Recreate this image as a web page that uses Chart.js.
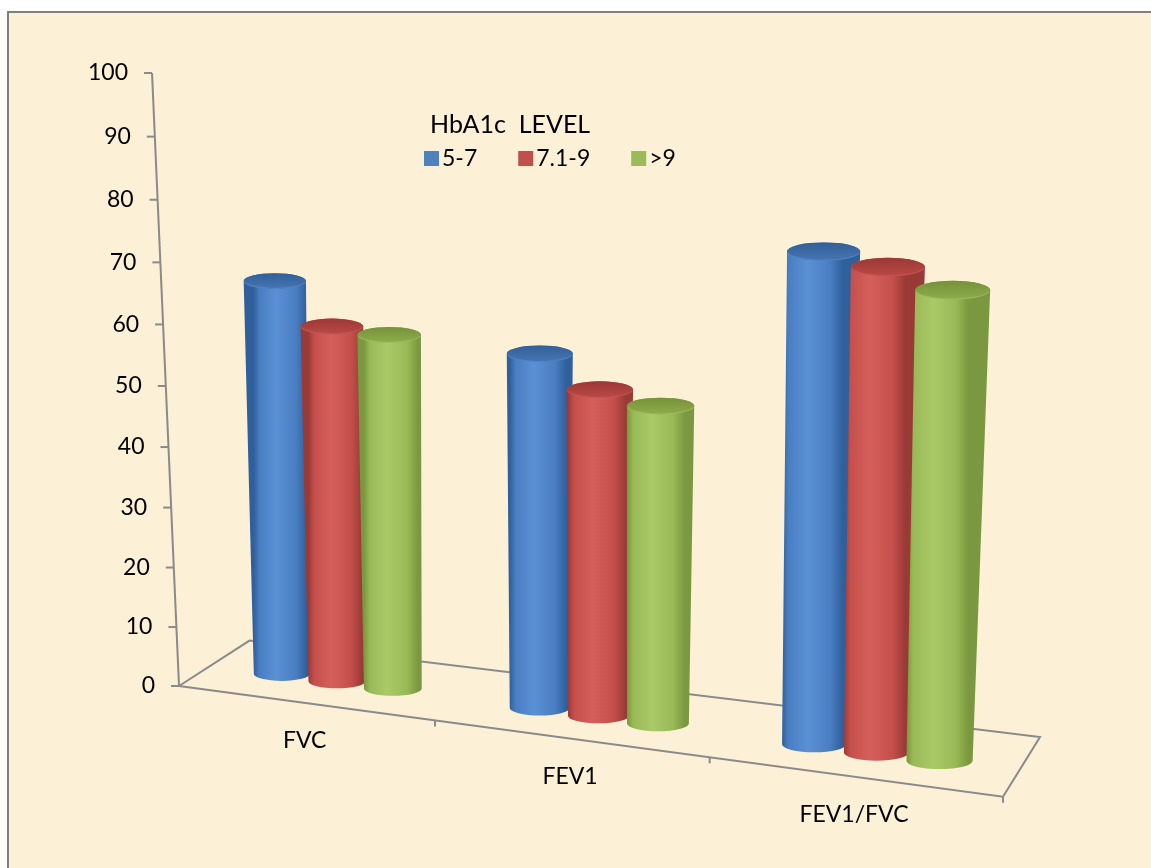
<!DOCTYPE html>
<html>
<head>
<meta charset="utf-8">
<script src="https://cdn.jsdelivr.net/npm/chart.js@4.4.1/dist/chart.umd.min.js"></script>
<style>
  html, body { margin: 0; padding: 0; background: #ffffff; }
  canvas { display: block; }
</style>
</head>
<body>
<canvas id="chart" width="1151" height="868"></canvas>
<script>
// ---- data ----
const categories = ['FVC', 'FEV1', 'FEV1/FVC'];
const levelNames = ['5-7', '7.1-9', '>9'];
const level5to7 = [65, 55, 71];
const level7to9 = [58, 50, 69];
const levelOver9 = [57, 48, 66];
const yTickValues = [0, 10, 20, 30, 40, 50, 60, 70, 80, 90, 100];
const legendTitle = 'HbA1c  LEVEL';

// ---- styling ----
const FONT = 'Lato, "Open Sans", sans-serif';
const palettes = [
  { base: '#4F81BD', dark: '#30609C', mid: '#4A7EC2', light: '#5A90D4', capBack: '#325F98', capFront: '#4676B3' },
  { base: '#C0504D', dark: '#9A3A37', mid: '#C44F4B', light: '#D45F5B', capBack: '#9C3835', capFront: '#B94946' },
  { base: '#9BBB59', dark: '#7A9840', mid: '#98B955', light: '#A9CA66', capBack: '#76923A', capFront: '#8EAC4C' }
];

// Oblique floor geometry (screen space) for the 3-D look.
function frontX(t) { return 179 + 740 * t + 84 * t * t; }
function frontY(x) { return 686 + 0.1344 * (x - 179); }
function backY(x) { return 640.6 + 0.122 * (x - 249.5); }
function rowX(t) { return 212.4 + 735 * t + 74.25 * t * t; }   // row the cylinders stand on
function rowY(x) { return 673.5 + 0.1322 * (x - 279); }
function depthScale(x) { return 1 + 0.000273 * (x - 279); }
function axisX(y) { return 179 - (686 - y) * 0.044; }

// slight perspective bow of the value axis
function warp(yScale, p) {
  const t = (yScale.bottom - p) / (yScale.bottom - yScale.top);
  return p + 26 * t * (1 - t);
}

function drawCylinder(ctx, bx, by, wb, tx, ty, wt, pal) {
  const rb = wb / 2, rt = wt / 2, eb = wb * 0.125, et = wt * 0.125;
  const g = ctx.createLinearGradient(bx - rb, 0, bx + rb, 0);
  g.addColorStop(0, pal.dark);
  g.addColorStop(0.1, pal.mid);
  g.addColorStop(0.4, pal.light);
  g.addColorStop(0.75, pal.mid);
  g.addColorStop(0.94, pal.dark);
  g.addColorStop(1, pal.dark);
  ctx.beginPath();
  ctx.moveTo(tx - rt, ty);
  ctx.lineTo(bx - rb, by);
  ctx.ellipse(bx, by, rb, eb, 0, Math.PI, 0, true);
  ctx.lineTo(tx + rt, ty);
  ctx.ellipse(tx, ty, rt, et, 0, 0, Math.PI, true);
  ctx.closePath();
  ctx.fillStyle = g;
  ctx.fill();

  const cg = ctx.createLinearGradient(0, ty - et, 0, ty + et);
  cg.addColorStop(0, pal.capBack);
  cg.addColorStop(1, pal.capFront);
  ctx.beginPath();
  ctx.ellipse(tx, ty, rt, et, 0, 0, Math.PI * 2);
  ctx.fillStyle = cg;
  ctx.fill();
  ctx.beginPath();
  ctx.ellipse(tx, ty, rt - 0.5, et - 0.5, 0, 0.15, Math.PI - 0.15);
  ctx.strokeStyle = pal.light;
  ctx.globalAlpha = 0.5;
  ctx.lineWidth = 1.2;
  ctx.stroke();
  ctx.globalAlpha = 1;
}

const perspectivePlugin = {
  id: 'perspective3d',
  beforeDraw(chart) {
    const ctx = chart.ctx;
    const area = chart.chartArea;
    const xs = chart.scales.x, ys = chart.scales.y;
    ctx.save();
    // page + framed parchment panel
    ctx.fillStyle = '#ffffff';
    ctx.fillRect(0, 0, chart.width, chart.height);
    ctx.fillStyle = '#FCF0D6';
    ctx.fillRect(8, 12, chart.width, chart.height);
    ctx.strokeStyle = '#808080';
    ctx.lineWidth = 2;
    ctx.strokeRect(8, 12, chart.width + 10, chart.height + 10);

    // floor outline
    const fx0 = frontX(0), fx1 = frontX(1);
    const bx0 = 249.5, bx1 = 1040;
    ctx.strokeStyle = '#8A8A8A';
    ctx.lineWidth = 2;
    ctx.beginPath();
    ctx.moveTo(fx0, frontY(fx0));
    ctx.lineTo(fx1, frontY(fx1));
    ctx.lineTo(bx1, backY(bx1));
    ctx.lineTo(bx0, backY(bx0));
    ctx.closePath();
    ctx.stroke();
    // category ticks along the front edge
    const toT = px => (px - area.left) / (area.right - area.left);
    const bounds = [];
    for (let i = 0; i < categories.length - 1; i++) {
      bounds.push((xs.getPixelForValue(i) + xs.getPixelForValue(i + 1)) / 2);
    }
    bounds.push(area.right);
    bounds.forEach(px => {
      const X = frontX(toT(px));
      ctx.beginPath();
      ctx.moveTo(X, frontY(X));
      ctx.lineTo(X, frontY(X) + 6);
      ctx.stroke();
    });
    // category labels
    ctx.fillStyle = '#000000';
    ctx.font = '23px ' + FONT;
    ctx.textAlign = 'center';
    ctx.textBaseline = 'middle';
    categories.forEach((c, i) => {
      const X = frontX(toT(xs.getPixelForValue(i)));
      ctx.fillText(c, X, frontY(X) + 38);
    });

    // value axis
    const yTop = warp(ys, ys.getPixelForValue(100));
    const yBot = warp(ys, ys.getPixelForValue(0));
    ctx.beginPath();
    ctx.moveTo(axisX(yTop), yTop);
    ctx.lineTo(axisX(yBot), yBot);
    ctx.stroke();
    ctx.textAlign = 'right';
    yTickValues.forEach(v => {
      const yy = warp(ys, ys.getPixelForValue(v));
      const ax = axisX(yy);
      ctx.beginPath();
      ctx.moveTo(ax - 8, yy);
      ctx.lineTo(ax, yy);
      ctx.stroke();
      ctx.fillText(String(v), ax - 24, yy);
    });

    // legend
    ctx.textAlign = 'left';
    ctx.textBaseline = 'alphabetic';
    ctx.font = '25px ' + FONT;
    ctx.fillText(legendTitle, 430, 133);
    ctx.font = '23px ' + FONT;
    ctx.textBaseline = 'middle';
    let lx = 424;
    chart.data.datasets.forEach((ds, k) => {
      ctx.fillStyle = palettes[k].base;
      ctx.fillRect(lx, 151, 15, 15);
      ctx.fillStyle = '#000000';
      ctx.fillText(ds.label, lx + 18, 158.5);
      lx += 18 + ctx.measureText(ds.label).width + 41;
    });
    ctx.restore();
  },
  beforeDatasetsDraw() {
    return false;
  },
  afterDraw(chart) {
    const ctx = chart.ctx;
    const area = chart.chartArea;
    const ys = chart.scales.y;
    ctx.save();
    for (let i = 0; i < categories.length; i++) {
      chart.data.datasets.forEach((ds, k) => {
        const el = chart.getDatasetMeta(k).data[i];
        const X = rowX((el.x - area.left) / (area.right - area.left));
        const s = depthScale(X);
        const by = rowY(X);
        const h = (warp(ys, el.base) - warp(ys, el.y)) * s;
        const wb = el.width * 0.933 * s;
        const wt = wb * (1 + 0.00028 * h);
        const tx = X + (X - 540) * 7e-5 * h;
        drawCylinder(ctx, X, by, wb, tx, by - h, wt, palettes[k]);
      });
    }
    ctx.restore();
  }
};

new Chart(document.getElementById('chart'), {
  type: 'bar',
  data: {
    labels: categories,
    datasets: [
      { label: levelNames[0], data: level5to7, backgroundColor: palettes[0].base },
      { label: levelNames[1], data: level7to9, backgroundColor: palettes[1].base },
      { label: levelNames[2], data: levelOver9, backgroundColor: palettes[2].base }
    ]
  },
  options: {
    responsive: false,
    animation: false,
    devicePixelRatio: 1,
    layout: { padding: { left: 180, right: 148, top: 73, bottom: 182 } },
    datasets: { bar: { categoryPercentage: 0.657, barPercentage: 1 } },
    scales: {
      x: { display: false },
      y: { display: false, min: 0, max: 100 }
    },
    plugins: {
      legend: { display: false },
      tooltip: { enabled: false }
    }
  },
  plugins: [perspectivePlugin]
});
</script>
</body>
</html>
